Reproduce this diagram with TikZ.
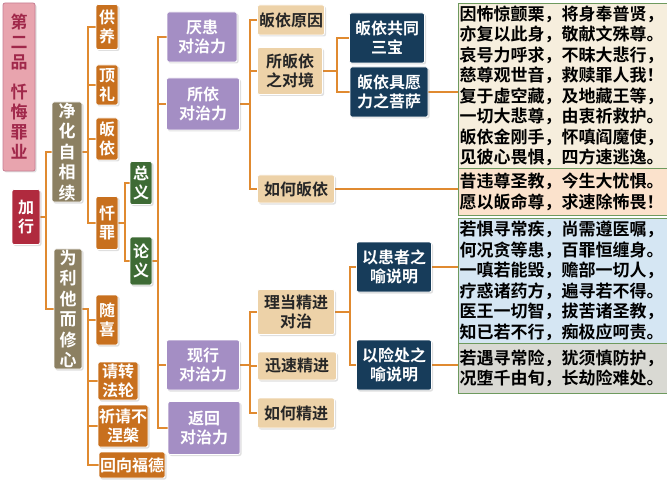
\documentclass[tikz,border=0pt]{standalone}
\usepackage{fontspec}
\setmainfont{Noto Sans CJK SC}[BoldFont={Noto Sans CJK SC Bold}]
\usetikzlibrary{shadows,backgrounds}
\definecolor{linkc}{HTML}{E08A30}
\definecolor{orangec}{HTML}{C8701E}
\definecolor{olivec}{HTML}{8C8062}
\definecolor{redc}{HTML}{B02A3E}
\definecolor{pinkc}{HTML}{E8A4AE}
\definecolor{pinkt}{HTML}{A0284A}
\definecolor{greenc}{HTML}{3E6B35}
\definecolor{purplec}{HTML}{A48EC4}
\definecolor{tanc}{HTML}{EDD2A8}
\definecolor{navyc}{HTML}{173C5A}
\definecolor{framec}{HTML}{6E9A5E}
\definecolor{beigev}{HTML}{F6EEDD}
\definecolor{peachv}{HTML}{FBE2CC}
\definecolor{bluev}{HTML}{D5E6F3}
\definecolor{greyv}{HTML}{D9D9D3}
\tikzset{
    box/.style={rectangle,draw=white,thick,rounded corners=2pt,inner sep=1pt,
        align=center,font=\bfseries\fontsize{16}{19}\selectfont,
        drop shadow={opacity=0.25,shadow xshift=1.5pt,shadow yshift=-1.5pt}},
    title/.style={box,fill=pinkc,text=pinkt,draw=pinkt!60,font=\bfseries\fontsize{17}{20}\selectfont},
    root/.style={box,fill=redc,text=white},
    part/.style={box,fill=olivec,text=white,font=\bfseries\fontsize{17}{20.5}\selectfont},
    limb/.style={box,fill=orangec,text=white},
    sense/.style={box,fill=greenc,text=white},
    force/.style={box,fill=purplec,text=white},
    item/.style={box,fill=tanc,text=black!85},
    deep/.style={box,fill=navyc,text=white},
    verse/.style={rectangle,draw=framec,thin,inner sep=1.5pt,align=left,anchor=north west,
        minimum width=209,text width=206,font=\bfseries\fontsize{17}{20.5}\selectfont},
    link/.style={draw=linkc,line width=2pt},
}
\begin{document}
\begin{tikzpicture}[x=1pt,y=-1pt]
    \useasboundingbox (0,0) rectangle (667,500);

    %%%
    % left column
    \node[title,minimum width=32,minimum height=168] (pin) at (19,87) {第\\二\\品\\[10pt]忏\\悔\\罪\\业};
    \node[root,minimum width=28,minimum height=55] (jia) at (26,217) {加\\行};
    \node[part,minimum width=30,minimum height=95] (jing) at (67,152) {净\\化\\自\\相\\续};
    \node[part,minimum width=28,minimum height=118] (wei) at (68,309) {为\\利\\他\\而\\修\\心};

    % seven limbs
    \node[limb,minimum width=22,minimum height=45] (gong) at (107,27) {供\\养};
    \node[limb,minimum width=22,minimum height=40] (ding) at (107,85) {顶\\礼};
    \node[limb,minimum width=22,minimum height=42] (gui) at (107,139) {皈\\依};
    \node[limb,minimum width=22,minimum height=53] (chan) at (107,223) {忏\\罪};
    \node[limb,minimum width=22,minimum height=50] (sui) at (107,320) {随\\喜};
    \node[limb,minimum width=40,minimum height=38] (qing) at (118,381) {请转\\法轮};
    \node[limb,minimum width=50,minimum height=42] (qi) at (123,426) {祈请不\\涅槃};
    \node[limb,minimum width=65,minimum height=26] (hui) at (132,465) {回向福德};

    \node[sense,minimum width=22,minimum height=43] (zong) at (141,183) {总\\义};
    \node[sense,minimum width=22,minimum height=48] (lun) at (141,261) {论\\义};

    % four forces
    \node[force,minimum width=70,minimum height=50] (yan) at (202,37) {厌患\\对治力};
    \node[force,minimum width=73,minimum height=52] (suo) at (203,104) {所依\\对治力};
    \node[force,minimum width=73,minimum height=50] (xian) at (203,365) {现行\\对治力};
    \node[force,minimum width=72,minimum height=53] (fan) at (204,428) {返回\\对治力};

    \node[item,minimum width=67,minimum height=30] (yuan) at (291,20) {皈依原因};
    \node[item,minimum width=65,minimum height=47] (jing2) at (290,71) {所皈依\\之对境};
    \node[item,minimum width=77,minimum height=28] (ruhe) at (296,189) {如何皈依};
    \node[item,minimum width=77,minimum height=45] (li) at (296,312) {理当精进\\对治};
    \node[item,minimum width=79,minimum height=28] (xun) at (297,366) {迅速精进};
    \node[item,minimum width=77,minimum height=30] (jin) at (296,413) {如何精进};

    \node[deep,minimum width=75,minimum height=50] (bao) at (387,38) {皈依共同\\三宝};
    \node[deep,minimum width=78,minimum height=50] (sa) at (389,92) {皈依具愿\\力之菩萨};
    \node[deep,minimum width=75,minimum height=50] (huan) at (394,267) {以患者之\\喻说明};
    \node[deep,minimum width=75,minimum height=50] (xianc) at (394,365) {以险处之\\喻说明};

    % verses
    \node[verse,fill=beigev,minimum height=165] (v1) at (458,3) {因怖惊颤栗，将身奉普贤，\\亦复以此身，敬献文殊尊。\\哀号力呼求，不昧大悲行，\\慈尊观世音，救赎罪人我！\\复于虚空藏，及地藏王等，\\一切大悲尊，由衷祈救护。\\皈依金刚手，怀嗔阎魔使，\\见彼心畏惧，四方速逃逸。};
    \node[verse,fill=peachv,minimum height=47] (v2) at (458,168) {昔违尊圣教，今生大忧惧。\\愿以皈命尊，求速除怖畏！};
    \node[verse,fill=bluev,minimum height=125] (v3) at (458,218) {若惧寻常疾，尚需遵医嘱，\\何况贪等患，百罪恒缠身。\\一嗔若能毁，赡部一切人，\\疗惑诸药方，遍寻若不得。\\医王一切智，拔苦诸圣教，\\知已若不行，痴极应呵责。};
    \node[verse,fill=greyv,minimum height=50] (v4) at (458,343) {若遇寻常险，犹须慎防护，\\况堕千由旬，长劫险难处。};

    % connectors
    \begin{scope}[on background layer]
    \foreach \c in {jing,wei} \draw[link] (jia.east) -- ++(6,0) |- (\c.west);
    \foreach \c in {gong,ding,gui,chan} \draw[link] (jing.east) -- ++(6,0) |- (\c.west);
    \foreach \c in {sui,qing,qi,hui} \draw[link] (wei.east) -- ++(6,0) |- (\c.west);
    \foreach \c in {zong,lun} \draw[link] (chan.east) -- ++(7,0) |- (\c.west);
    \foreach \c in {yan,suo,xian,fan} \draw[link] (lun.east) -- ++(6,0) |- (\c.west);
    \foreach \c in {yuan,jing2,ruhe} \draw[link] (suo.east) -- ++(10,0) |- (\c.west);
    \foreach \c in {bao,sa} \draw[link] (jing2.east) -- ++(14,0) |- (\c.west);
    \foreach \c in {li,xun,jin} \draw[link] (xian.east) -- ++(10,0) |- (\c.west);
    \foreach \c in {huan,xianc} \draw[link] (li.east) -- ++(15,0) |- (\c.west);
    \draw[link] (sa.east) -- (sa.east -| v1.west);
    \draw[link] (ruhe.east) -- (ruhe.east -| v2.west);
    \draw[link] (huan.east) -- (huan.east -| v3.west);
    \draw[link] (xianc.east) -- (xianc.east -| v4.west);
    \end{scope}
\end{tikzpicture}
\end{document}
